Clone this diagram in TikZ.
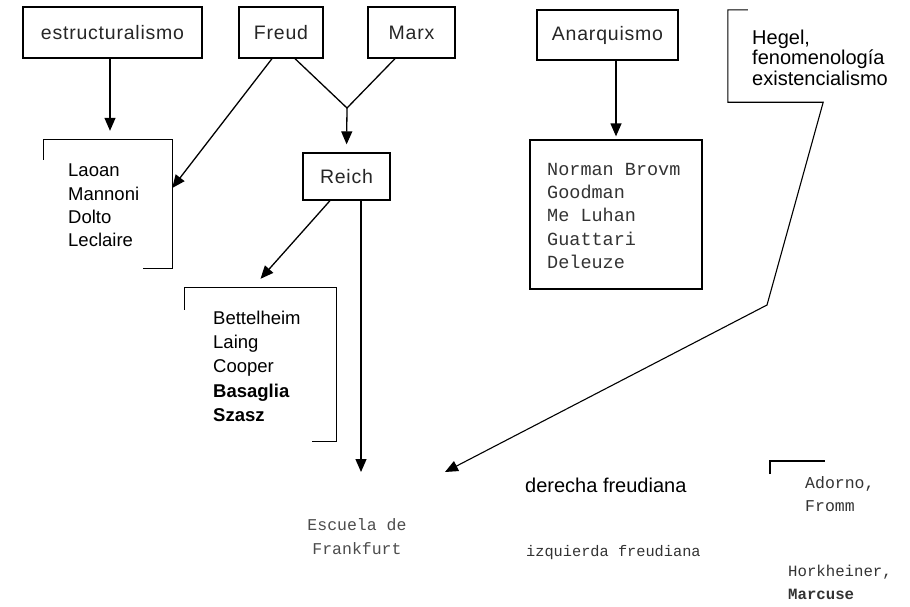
\documentclass[tikz,border=0pt]{standalone}
\usepackage{fontspec}
\setmainfont{Liberation Sans}
\setmonofont{Liberation Mono}
\newfontfamily\labelfont{Liberation Sans}[LetterSpace=4]
\usetikzlibrary{arrows.meta, positioning, calc}

\begin{document}
\begin{tikzpicture}[
  x=1pt, y=-1pt,
  every node/.style={inner sep=0pt},
  concept/.style={rectangle, draw, line width=1.3pt, minimum height=51pt, font=\labelfont\fontsize{19.5}{23}\selectfont, text=black!85},
  frame/.style={rectangle, draw=none},
  names/.style={align=left, anchor=base west, font=\fontsize{18.5}{23.3}\selectfont},
  typed/.style={align=left, anchor=base west, text=black!80},
  edge/.style={line width=1.3pt},
  link/.style={edge, ->},
  >={Triangle[length=13pt, width=11pt]}
]
\useasboundingbox (0,0) rectangle (910,606);

% sources
\node[concept, minimum width=179pt] (estruct) at (112.5,32.5) {estructuralismo};
\node[concept, minimum width=84pt] (freud) at (281,32.5) {Freud};
\node[concept, minimum width=87pt] (marx) at (411.5,32.5) {Marx};
\node[concept, minimum width=141pt, minimum height=50pt] (anarq) at (607.5,35) {Anarquismo};
\node[concept, minimum width=87pt, minimum height=47pt] (reich) at (346.5,176.5) {Reich};

% groups of authors
\node[frame, minimum width=128pt, minimum height=128pt] (lacan) at (108,204) {};
\node[frame, minimum width=151pt, minimum height=153pt] (bettel) at (260.5,364.5) {};
\node[rectangle, draw, line width=1.3pt, minimum width=172pt, minimum height=149pt] (norman) at (616,214.5) {};
\node[frame, minimum width=95pt, minimum height=92pt] (hegel) at (775.5,56) {};

\draw[edge] ([yshift=-20pt]lacan.north west) -- (lacan.north west) -- (lacan.north east) -- (lacan.south east) -- ++(-29,0);
\draw[edge] ([yshift=-22pt]bettel.north west) -- (bettel.north west) -- (bettel.north east) -- (bettel.south east) -- ++(-24,0);
\draw[edge] (770,474) -- (770,461) -- (825,461);

% lists: base is the last line
\node[names] (lacannames) at (68,246.7) {Laoan\\Mannoni\\Dolto\\Leclaire};
\node[names, font=\fontsize{18.5}{24.4}\selectfont] (bettelnames) at (213,421.7) {Bettelheim\\Laing\\Cooper\\\textbf{Basaglia}\\\textbf{Szasz}};
\node[typed, font=\ttfamily\fontsize{18.5}{23.3}\selectfont] (normannames) at (547,268.3) {Norman Brovm\\Goodman\\Me Luhan\\Guattari\\Deleuze};
\node[names, font=\fontsize{20}{20.5}\selectfont] (hegeltext) at (752,85) {Hegel,\\fenomenología\\existencialismo};

% bottom labels
\node[typed, align=center, anchor=base, text=black!70, font=\ttfamily\fontsize{16.5}{23.3}\selectfont] (escuela) at (357,554) {Escuela de\\Frankfurt};
\node[names, font=\fontsize{20}{24}\selectfont] (derecha) at (525,492.7) {derecha freudiana};
\node[typed, font=\ttfamily\fontsize{15.3}{20}\selectfont] (izquierda) at (526,556.7) {izquierda freudiana};
\node[typed, font=\ttfamily\fontsize{16.5}{23.4}\selectfont] (adorno) at (805,511.7) {Adorno,\\Fromm};
\node[typed, font=\ttfamily\fontsize{15.7}{22.6}\selectfont] (horkheimer) at (788,599.3) {Horkheiner,\\\textbf{Marcuse}};

% connectors
\coordinate (join) at (347,108);
\coordinate (bend) at (767,305);
\coordinate (hegelend) at (445,472);

\draw[link, shorten >=9pt] ([xshift=-2.5pt]estruct.south) -- ([xshift=-2.5pt]estruct.south |- lacan.north);
\draw[link] ([xshift=-9pt]freud.south) -- ([yshift=16pt]lacan.east);
\draw[edge] ([xshift=14pt]freud.south) -- (join) -- ([xshift=-16.5pt]marx.south);
\draw[link, shorten >=8pt] (join) -- (reich.north);
\draw[link] ([xshift=-16.5pt]reich.south) -- ([yshift=9pt]bettel.north);
\draw[link] ([xshift=14.5pt]reich.south) -- ([xshift=14.5pt]reich.south |- hegelend);
\draw[link, shorten >=3pt] (norman.north |- anarq.south) -- (norman.north);
\draw[link, line width=1.1pt] ([xshift=20pt]hegel.north west) -- (hegel.north west) -- (hegel.south west) -- (hegel.south east) -- (bend) -- (hegelend);
\end{tikzpicture}
\end{document}
